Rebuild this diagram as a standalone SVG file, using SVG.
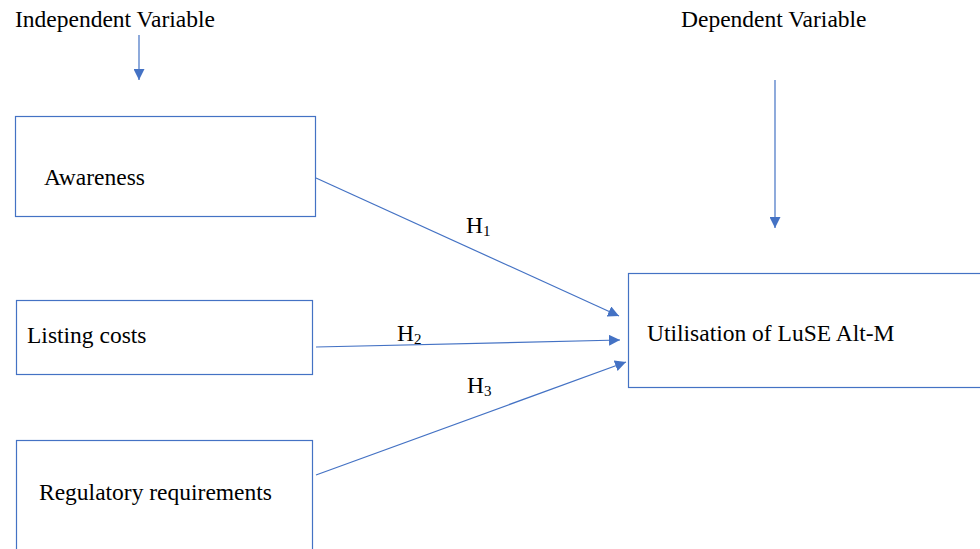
<svg xmlns="http://www.w3.org/2000/svg" width="980" height="549" viewBox="0 0 980 549">
<style>
.t{font-family:"Liberation Serif","Times New Roman",serif;font-size:23.5px;fill:#000}
.s{font-size:15px}
.box{fill:#fff;stroke:#4472C4;stroke-width:1.2}
.ln{stroke:#4472C4;stroke-width:1.2;fill:none;marker-end:url(#ah)}
</style>
<defs>
<marker id="ah" viewBox="0 0 10 10" refX="10" refY="5" markerWidth="11" markerHeight="11" markerUnits="userSpaceOnUse" orient="auto">
<path d="M0,0 L10,5 L0,10 z" fill="#4472C4"/>
</marker>
</defs>
<rect width="980" height="549" fill="#fff"/>
<text class="t" x="15" y="27">Independent Variable</text>
<text class="t" x="681" y="27">Dependent Variable</text>
<g id="connectors">
<line class="ln" x1="139" y1="35" x2="139" y2="80"/>
<line class="ln" x1="775" y1="80" x2="775" y2="228"/>
<line class="ln" x1="316" y1="178" x2="619" y2="316"/>
<line class="ln" x1="316" y1="347" x2="620" y2="340"/>
<line class="ln" x1="316" y1="475" x2="626" y2="362"/>
</g>
<g id="awareness"><rect class="box" x="15.5" y="116.5" width="300" height="100"/><text class="t" x="44" y="185">Awareness</text></g>
<g id="listing"><rect class="box" x="16.5" y="300.5" width="296" height="74"/><text class="t" x="27" y="343">Listing costs</text></g>
<g id="regulatory"><rect class="box" x="16.5" y="440.5" width="296" height="120"/><text class="t" x="39" y="500">Regulatory requirements</text></g>
<g id="utilisation"><rect class="box" x="628.5" y="273.5" width="360" height="114"/><text class="t" x="647" y="341">Utilisation of LuSE Alt-M</text></g>
<g id="labels">
<text class="t" x="466" y="233">H<tspan class="s" dy="3">1</tspan></text>
<text class="t" x="397" y="341">H<tspan class="s" dy="3">2</tspan></text>
<text class="t" x="467" y="393">H<tspan class="s" dy="3">3</tspan></text>
</g>
</svg>
